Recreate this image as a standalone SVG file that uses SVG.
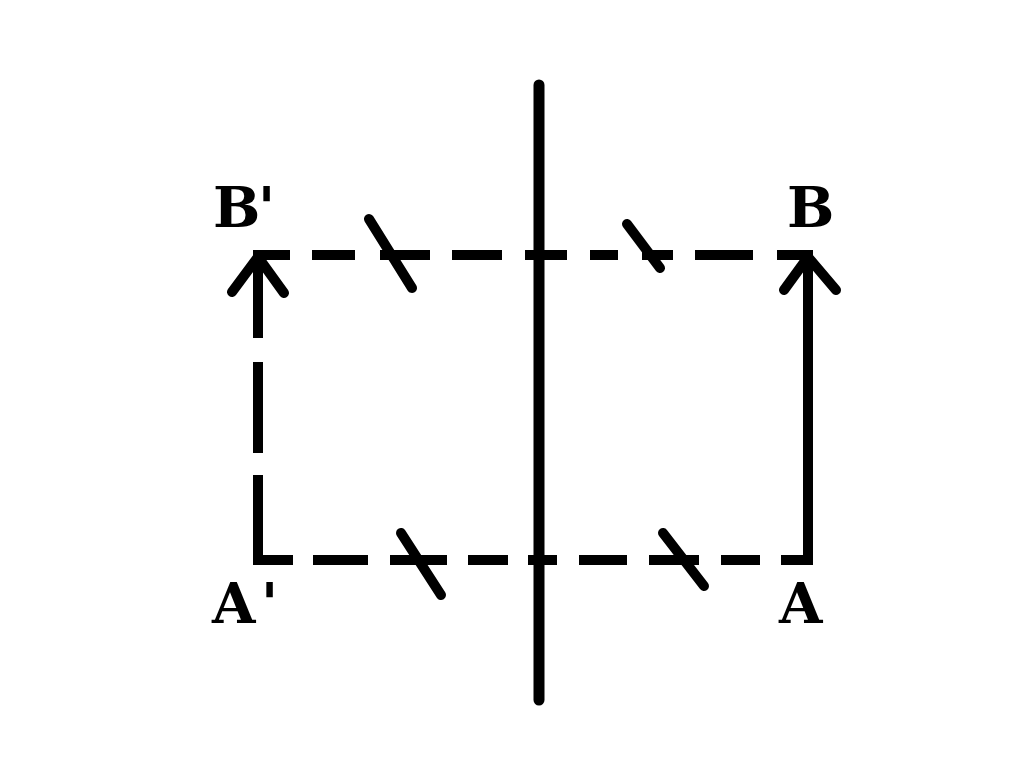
<svg xmlns="http://www.w3.org/2000/svg" width="1024" height="772" viewBox="0 0 1024 772">
<style>
.ln{stroke:#000;stroke-width:10;fill:none;stroke-linecap:butt;stroke-linejoin:miter}
.rd{stroke:#000;stroke-width:10;fill:none;stroke-linecap:round;stroke-linejoin:round}
.lbl{font-family:"DejaVu Serif","Liberation Serif",serif;font-weight:bold;font-size:56px;fill:#000}
</style>
<rect width="1024" height="772" fill="#fff"/>
<g id="mirror">
<line class="rd" x1="539" y1="85" x2="539" y2="700" style="stroke-width:11"/>
</g>
<g id="connectors">
<polyline class="ln" points="258,338 258,255 290,255"/>
<line class="ln" x1="258" y1="362" x2="258" y2="453"/>
<polyline class="ln" points="258,475 258,560 293,560"/>
<line class="ln" x1="312" y1="255" x2="355" y2="255"/>
<line class="ln" x1="380" y1="255" x2="430" y2="255"/>
<line class="ln" x1="452" y1="255" x2="502" y2="255"/>
<line class="ln" x1="525" y1="255" x2="567" y2="255"/>
<line class="ln" x1="590" y1="255" x2="618" y2="255"/>
<line class="ln" x1="642" y1="255" x2="673" y2="255"/>
<line class="ln" x1="695" y1="255" x2="753" y2="255"/>
<polyline class="ln" points="777,255 808,255 808,560 781,560"/>
<line class="ln" x1="313" y1="560" x2="368" y2="560"/>
<line class="ln" x1="390" y1="560" x2="447" y2="560"/>
<line class="ln" x1="468" y1="560" x2="508" y2="560"/>
<line class="ln" x1="528" y1="560" x2="557" y2="560"/>
<line class="ln" x1="579" y1="560" x2="627" y2="560"/>
<line class="ln" x1="649" y1="560" x2="699" y2="560"/>
<line class="ln" x1="721" y1="560" x2="760" y2="560"/>
<polyline class="rd" points="232,292 258,257 284,293"/>
<polyline class="rd" points="784,290 808,257 836,290"/>
<line class="rd" x1="369" y1="219" x2="412" y2="288"/>
<line class="rd" x1="627" y1="224" x2="660" y2="268"/>
<line class="rd" x1="401" y1="533" x2="441" y2="595"/>
<line class="rd" x1="663" y1="533" x2="704" y2="586"/>
</g>
<g id="label-Bp"><text class="lbl" x="213 258" y="227">B'</text></g>
<g id="label-B"><text class="lbl" x="787" y="227">B</text></g>
<g id="label-Ap"><text class="lbl" x="212 261" y="623">A'</text></g>
<g id="label-A"><text class="lbl" x="779" y="623">A</text></g>
</svg>
